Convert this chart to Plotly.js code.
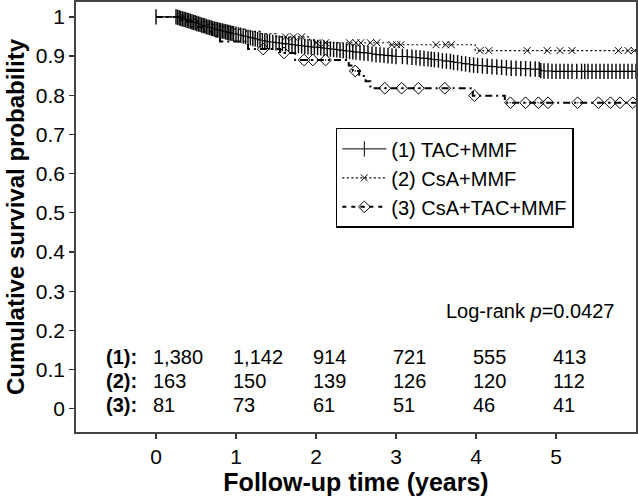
<!DOCTYPE html>
<html>
<head>
<meta charset="utf-8">
<script src="https://cdn.plot.ly/plotly-3.0.1.min.js"></script>
<style>html,body{margin:0;padding:0;background:#fff}#chart{width:638px;height:502px}</style>
</head>
<body>
<div id="chart"></div>
<script>
// ---- Data ----
const seriesNames = ['(1) TAC+MMF', '(2) CsA+MMF', '(3) CsA+TAC+MMF'];

// (1) TAC+MMF: step curve with dense censor marks
const tacTime = [0,0.25,0.27,0.29,0.31,0.33,0.35,0.37,0.39,0.41,0.43,0.45,0.47,0.49,0.51,0.53,0.55,0.57,0.59,0.61,0.63,0.65,0.67,0.69,0.71,0.73,0.75,0.77,0.79,0.81,0.83,0.85,0.87,0.89,0.91,0.93,0.95,0.97,1.00,1.03,1.06,1.09,1.12,1.15,1.18,1.21,1.24,1.27,1.30,1.33,1.36,1.39,1.42,1.46,1.50,1.54,1.58,1.62,1.66,1.70,1.74,1.78,1.82,1.86,1.90,1.94,1.98,2.02,2.06,2.10,2.14,2.18,2.22,2.26,2.30,2.34,2.38,2.42,2.46,2.50,2.55,2.60,2.65,2.70,2.75,2.80,2.85,2.90,2.95,3.00,3.08,3.14,3.20,3.25,3.30,3.35,3.40,3.44,3.48,3.53,3.58,3.63,3.68,3.72,3.77,3.82,3.87,3.92,3.97,4.02,4.08,4.14,4.20,4.26,4.32,4.38,4.44,4.50,4.56,4.62,4.68,4.74,4.79,4.81,4.85,4.90,4.95,5.00,5.05,5.10,5.15,5.20,5.26,5.32,5.36,5.40,5.45,5.50,5.55,5.60,5.65,5.70,5.75,5.80,5.85,5.90,5.95,6.00];
const tacSurv = [1,1,0.999,0.998,0.996,0.995,0.994,0.993,0.991,0.990,0.989,0.987,0.986,0.985,0.983,0.982,0.981,0.979,0.978,0.977,0.975,0.974,0.973,0.972,0.970,0.969,0.968,0.967,0.966,0.965,0.964,0.963,0.962,0.961,0.960,0.959,0.958,0.957,0.956,0.954,0.953,0.951,0.950,0.948,0.947,0.945,0.944,0.942,0.941,0.939,0.938,0.937,0.936,0.935,0.934,0.933,0.932,0.931,0.930,0.929,0.928,0.927,0.926,0.925,0.924,0.923,0.923,0.922,0.921,0.920,0.919,0.918,0.917,0.916,0.915,0.914,0.913,0.912,0.911,0.910,0.909,0.908,0.907,0.905,0.904,0.903,0.902,0.901,0.900,0.899,0.899,0.898,0.897,0.896,0.895,0.894,0.893,0.892,0.891,0.890,0.888,0.887,0.886,0.884,0.883,0.881,0.880,0.878,0.877,0.876,0.875,0.874,0.873,0.872,0.871,0.870,0.869,0.869,0.868,0.868,0.867,0.867,0.866,0.863,0.862,0.862,0.861,0.861,0.861,0.861,0.861,0.861,0.861,0.861,0.861,0.861,0.861,0.861,0.861,0.861,0.861,0.861,0.861,0.861,0.861,0.861,0.861,0.861];

// (2) CsA+MMF: step curve and censored observations
const csaTime = [0,0.40,0.52,0.64,0.80,0.95,1.10,1.30,1.50,1.92,1.97,2.92,3.99,6.00];
const csaSurv = [1,0.994,0.988,0.981,0.975,0.969,0.963,0.957,0.949,0.941,0.934,0.929,0.914,0.914];
const csaCensTime = [0.33,1.62,1.72,1.82,2.01,2.12,2.42,2.50,2.56,2.68,2.76,2.95,3.01,3.06,3.50,3.62,3.69,4.05,4.16,4.64,4.89,5.05,5.20,5.78,5.90,5.98];
const csaCensSurv = [1,0.949,0.949,0.949,0.934,0.934,0.934,0.934,0.934,0.934,0.934,0.929,0.929,0.929,0.929,0.929,0.929,0.914,0.914,0.914,0.914,0.914,0.914,0.914,0.914,0.914];

// (3) CsA+TAC+MMF: step curve and censored observations
const ctmTime = [0,0.32,0.45,0.58,0.70,0.80,1.15,1.55,1.74,2.41,2.46,2.54,2.62,2.68,3.96,4.36,6.00];
const ctmSurv = [1,0.988,0.975,0.963,0.950,0.937,0.918,0.908,0.890,0.876,0.862,0.849,0.836,0.818,0.799,0.781,0.781];
const ctmCensTime = [1.34,1.60,1.85,1.96,2.12,2.49,2.86,3.07,3.28,3.61,3.98,4.43,4.62,4.78,4.90,5.27,5.53,5.68,5.80,5.96];
const ctmCensSurv = [0.918,0.908,0.890,0.890,0.890,0.862,0.818,0.818,0.818,0.818,0.799,0.781,0.781,0.781,0.781,0.781,0.781,0.781,0.781,0.781];

// Numbers at risk
const riskYears = [0,1,2,3,4,5];
const rowLabels = ['(1):','(2):','(3):'];
const atRisk1 = ['1,380','1,142','914','721','555','413'];
const atRisk2 = ['163','150','139','126','120','112'];
const atRisk3 = ['81','73','61','51','46','41'];
const logRankText = 'Log-rank <i>p</i>=0.0427';

// ---- Styles ----
const FONT = 'Arial, "Liberation Sans", sans-serif';
const INK = '#000';
const m1 = {symbol:'line-ns-open', size:11, color:INK, line:{color:INK, width:1.4}};
const m2 = {symbol:'x-thin-open', size:7, color:INK, line:{color:INK, width:1}};
const m3 = {symbol:'diamond-open-dot', size:9, color:INK, line:{color:INK, width:1}};
const dot2 = '2px,2.5px';
const dash3 = '7px,4px,2px,4px';

const traces = [
  // curves
  {x:tacTime, y:tacSurv, mode:'lines+markers', line:{color:INK,width:1.2,shape:'hv'}, marker:m1, showlegend:false, hoverinfo:'skip'},
  {x:csaTime, y:csaSurv, mode:'lines', line:{color:INK,width:1.2,dash:dot2,shape:'hv'}, showlegend:false, hoverinfo:'skip'},
  {x:csaCensTime, y:csaCensSurv, mode:'markers', marker:m2, showlegend:false, hoverinfo:'skip'},
  {x:ctmTime, y:ctmSurv, mode:'lines', line:{color:INK,width:2,dash:dash3,shape:'hv'}, showlegend:false, hoverinfo:'skip'},
  {x:ctmCensTime, y:ctmCensSurv, mode:'markers', marker:m3, showlegend:false, hoverinfo:'skip'},
  // legend entries
  {x:[null], y:[null], name:seriesNames[0], mode:'lines+markers', line:{color:INK,width:1}, marker:Object.assign({}, m1, {line:{color:INK,width:1}})},
  {x:[null], y:[null], name:seriesNames[1], mode:'lines+markers', line:{color:INK,width:1.2,dash:dot2}, marker:m2},
  {x:[null], y:[null], name:seriesNames[2], mode:'lines+markers', line:{color:INK,width:2,dash:'4px,5px'}, marker:m3}
];

const annotations = [];
const rowY = [0.133, 0.072, 0.011];
const rows = [atRisk1, atRisk2, atRisk3];
rows.forEach((vals, r) => {
  annotations.push({x:-0.21, y:rowY[r], xref:'x', yref:'y', text:'<b>'+rowLabels[r]+'</b>', showarrow:false, xanchor:'right', yanchor:'middle', font:{family:FONT,size:20,color:INK}});
  vals.forEach((v, i) => {
    annotations.push({x:riskYears[i]-0.06, y:rowY[r], xref:'x', yref:'y', text:v, showarrow:false, xanchor:'left', yanchor:'middle', font:{family:FONT,size:20,color:INK}});
  });
});
annotations.push({x:4.68, y:0.25, xref:'x', yref:'y', text:logRankText, showarrow:false, xanchor:'center', yanchor:'middle', font:{family:FONT,size:20,color:INK}});

const layout = {
  width:638, height:502,
  margin:{l:76, r:2, t:2, b:70, pad:0},
  paper_bgcolor:'#fff', plot_bgcolor:'#fff',
  font:{family:FONT, size:20, color:INK},
  showlegend:true,
  legend:{x:0.464, y:0.591, xanchor:'left', yanchor:'middle', bgcolor:'#fff', bordercolor:INK, borderwidth:1.5,
          font:{family:FONT,size:20,color:INK}, itemwidth:44, tracegroupgap:0},
  xaxis:{range:[-1,6], tickvals:riskYears, ticktext:riskYears.map(String), ticks:'outside', ticklen:5, tickwidth:1.2, tickcolor:'#333',
         showline:true, mirror:true, linecolor:'#444', linewidth:1.8, showgrid:false, zeroline:false,
         tickfont:{family:FONT,size:21,color:INK},
         title:{text:'Follow-up time (years)', font:{family:FONT,size:25,color:INK,weight:'bold'}, standoff:6}},
  yaxis:{range:[-0.059,1.038], tickvals:[0,0.1,0.2,0.3,0.4,0.5,0.6,0.7,0.8,0.9,1], ticktext:['0','0.1','0.2','0.3','0.4','0.5','0.6','0.7','0.8','0.9','1'],
         ticks:'outside', ticklen:5, tickwidth:1.2, tickcolor:'#333',
         showline:true, mirror:true, linecolor:'#444', linewidth:1.8, showgrid:false, zeroline:false,
         tickfont:{family:FONT,size:21,color:INK},
         title:{text:'Cumulative survival probability', font:{family:FONT,size:24,color:INK,weight:'bold'}, standoff:4}},
  annotations:annotations
};

Plotly.newPlot('chart', traces, layout, {staticPlot:true, displayModeBar:false});
</script>
</body>
</html>
